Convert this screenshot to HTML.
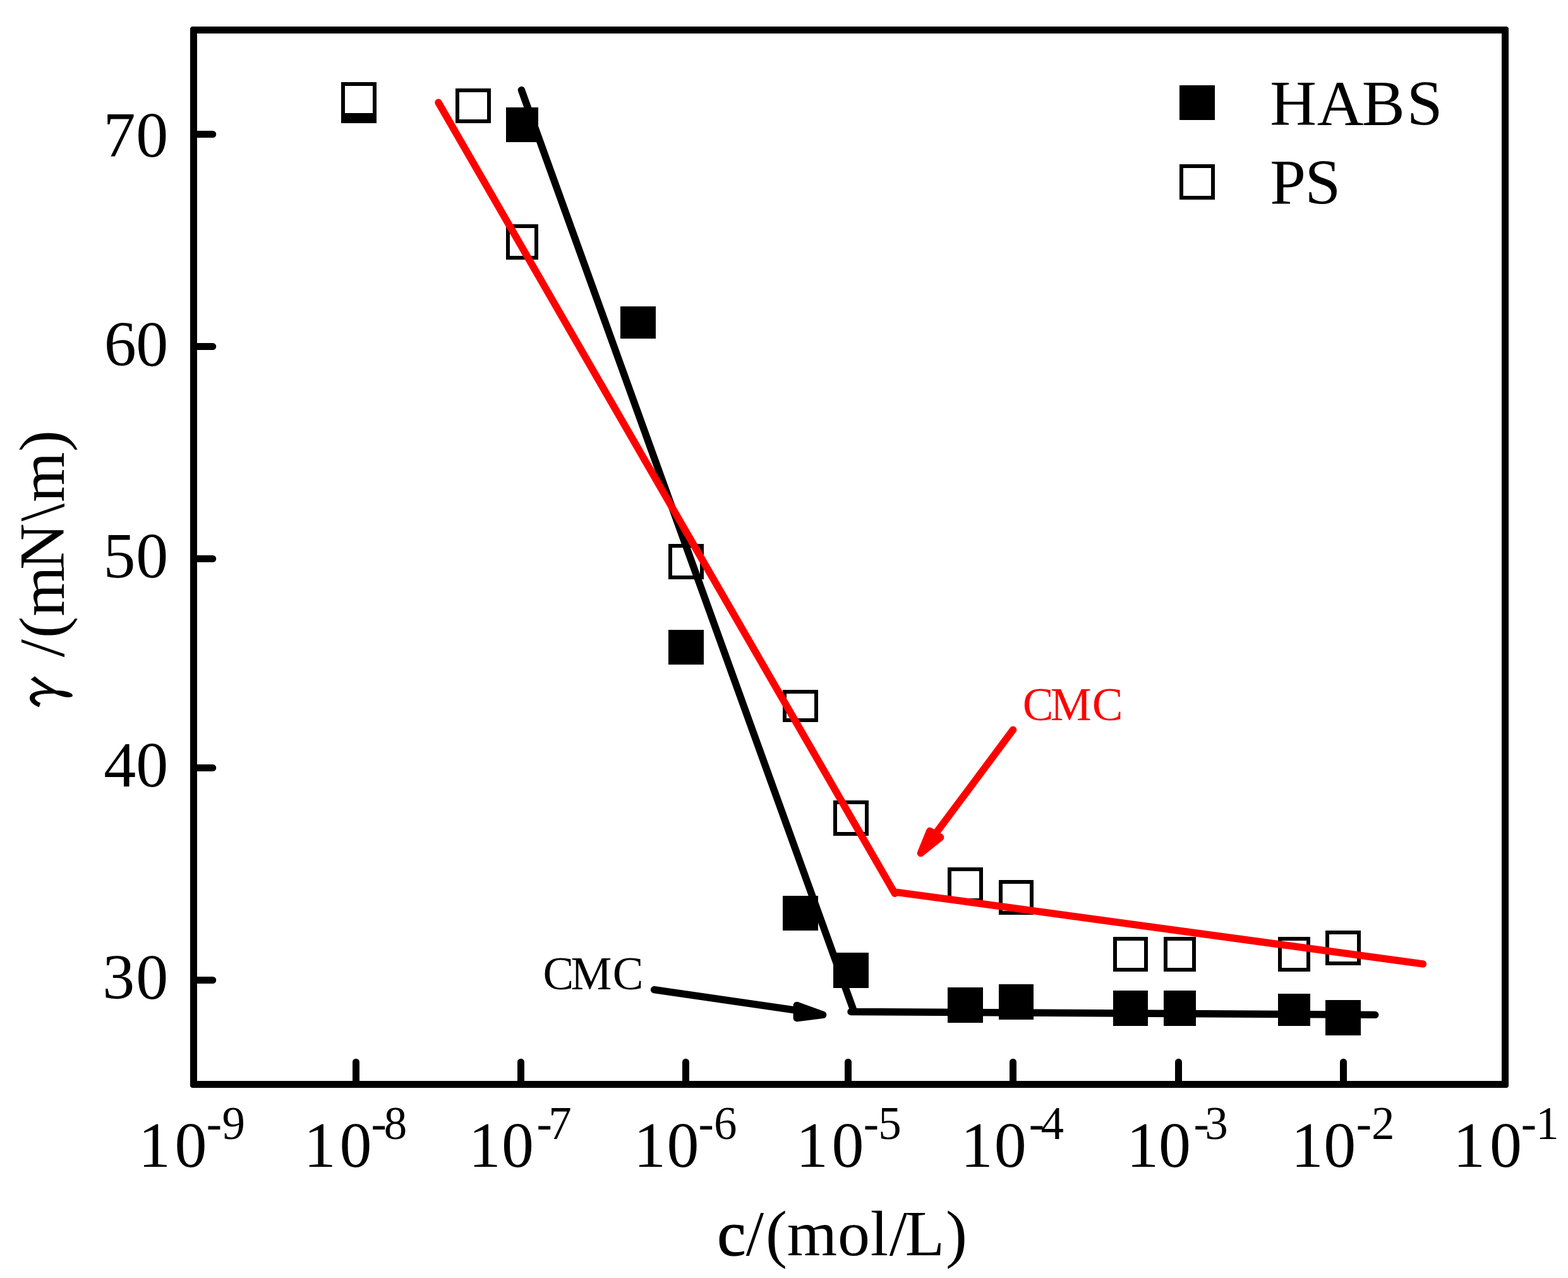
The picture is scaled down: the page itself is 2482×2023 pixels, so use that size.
<!DOCTYPE html>
<html lang="en"><head><meta charset="utf-8"><title>Surface tension versus concentration</title>
<style>html,body{margin:0;padding:0;background:#fff;}body{width:2482px;height:2023px;overflow:hidden;}svg{display:block;}text{font-family:"Liberation Serif","Times New Roman",Times,serif;white-space:pre;}.g{font-family:"IPAGothic","Liberation Serif",serif;}</style></head><body>
<svg width="2482" height="2023" viewBox="0 0 2482 2023">
<rect x="0" y="0" width="2482" height="2023" fill="#fff"/>
<path fill="#000" fill-rule="evenodd" d="M303.5 42L2385.5 42L2388 44.5L2388 1719.5L2385.5 1722L303.5 1722L301 1719.5L301 44.5ZM312 53L312 1711L2377 1711L2377 53Z"/>
<g stroke="#000" stroke-width="11" stroke-linecap="round">
<line x1="306.5" y1="212.5" x2="336.7" y2="212.5"/>
<line x1="306.5" y1="548.5" x2="336.7" y2="548.5"/>
<line x1="306.5" y1="884.5" x2="336.7" y2="884.5"/>
<line x1="306.5" y1="1215.5" x2="336.7" y2="1215.5"/>
<line x1="306.5" y1="1551.5" x2="336.7" y2="1551.5"/>
<line x1="563.5" y1="1716.5" x2="563.5" y2="1681.2"/>
<line x1="824.5" y1="1716.5" x2="824.5" y2="1681.2"/>
<line x1="1085.5" y1="1716.5" x2="1085.5" y2="1681.2"/>
<line x1="1342.5" y1="1716.5" x2="1342.5" y2="1681.2"/>
<line x1="1603.5" y1="1716.5" x2="1603.5" y2="1681.2"/>
<line x1="1865.5" y1="1716.5" x2="1865.5" y2="1681.2"/>
<line x1="2126.5" y1="1716.5" x2="2126.5" y2="1681.2"/>
</g>
<g fill="#000">
<rect x="540" y="140" width="56" height="55"/>
<rect x="801" y="170" width="51" height="55"/>
<rect x="982" y="485" width="56" height="51"/>
<rect x="1058" y="997" width="56" height="55"/>
<rect x="1239" y="1418" width="56" height="55"/>
<rect x="1319" y="1508" width="56" height="56"/>
<rect x="1500" y="1563" width="56" height="56"/>
<rect x="1581" y="1558" width="55" height="56"/>
<rect x="1762" y="1568" width="55" height="56"/>
<rect x="1842" y="1568" width="51" height="56"/>
<rect x="2023" y="1573" width="51" height="51"/>
<rect x="2098" y="1583" width="56" height="56"/>
</g>
<g fill="#fff" stroke="#000" stroke-width="6">
<rect x="543" y="133" width="50" height="49"/>
<rect x="724" y="143" width="50" height="49"/>
<rect x="804" y="358" width="45" height="50"/>
<rect x="1061" y="864" width="50" height="50"/>
<rect x="1242" y="1095" width="50" height="45"/>
<rect x="1322" y="1270" width="50" height="50"/>
<rect x="1503" y="1376" width="50" height="49"/>
<rect x="1584" y="1396" width="49" height="49"/>
<rect x="1765" y="1486" width="49" height="49"/>
<rect x="1845" y="1486" width="45" height="49"/>
<rect x="2026" y="1486" width="45" height="49"/>
<rect x="2101" y="1476" width="50" height="49"/>
</g>
<g fill="none" stroke-width="11.4" stroke-linecap="round" stroke-linejoin="round">
<path d="M825.4 142.5L1351 1599M1347 1601.5L2176.7 1606.4" stroke="#000"/>
<path d="M694 162.3L1416.5 1414.3M1415.5 1411.8L2252.4 1525.9" stroke="#f00"/>
<path d="M1603.6 1155.2L1480.3 1320.5" stroke="#f00"/>
<path d="M1457.4 1350.6L1488.7 1325.5L1471.8 1315.4Z" stroke="#f00" fill="#f00"/>
<path d="M1035.5 1566.7L1261.3 1599.3" stroke="#000"/>
<path d="M1302.6 1606.4L1261.3 1591.4L1261.3 1611.5Z" stroke="#000" fill="#000"/>
</g>
<g font-size="102" fill="#000">
<text x="163.46 215.3" y="247.7">70</text>
<text x="164.68 215.3" y="578.9">60</text>
<text x="163.43 215.3" y="913.9">50</text>
<text x="164.2 215.3" y="1244.85">40</text>
<text x="162.35 215.3" y="1580.7">30</text>
<text y="1846.8"><tspan x="218.88 276.4">10</tspan><tspan font-size="73" x="326.81 351.62" y="1803.4">-9</tspan></text>
<text y="1846.8"><tspan x="480.68 537.6">10</tspan><tspan font-size="73" x="587.51 607.7" y="1803.4">-8</tspan></text>
<text y="1846.8"><tspan x="741.68 793.9">10</tspan><tspan font-size="73" x="849.41 868.2" y="1803.4">-7</tspan></text>
<text y="1846.8"><tspan x="1002.98 1055.55">10</tspan><tspan font-size="73" x="1105.51 1129.97" y="1803.4">-6</tspan></text>
<text y="1846.8"><tspan x="1259.88 1316.4">10</tspan><tspan font-size="73" x="1366.71 1390.35" y="1803.4">-5</tspan></text>
<text y="1846.8"><tspan x="1520.68 1573.65">10</tspan><tspan font-size="73" x="1628.66 1647.61" y="1803.4">-4</tspan></text>
<text y="1846.8"><tspan x="1783.18 1833.9">10</tspan><tspan font-size="73" x="1889.41 1907.33" y="1803.4">-3</tspan></text>
<text y="1846.8"><tspan x="2043.68 2095.3">10</tspan><tspan font-size="73" x="2146.66 2171.06" y="1803.4">-2</tspan></text>
<text y="1846.8"><tspan x="2299.88 2357.9">10</tspan><tspan font-size="73" x="2407.81 2431.18" y="1803.4">-1</tspan></text>
<text x="1135.19 1180.83 1212.12 1245.76 1326 1377.63 1407.83 1432.64 1497.01" y="1986.8"><tspan stroke="#000" stroke-width="1.2">c</tspan>/(mol/L)</text>
<text class="g" transform="translate(101 1119.4) rotate(-90) scale(0.78 1)" font-size="105.6" x="-21.24" y="4.14">γ</text>
<text transform="translate(101 1119.4) rotate(-90)" x="55 79.28 109.37 143.66 217.32 294.23 324.31 404.46" y="0"> /(mN\m)</text>
<text x="2010.19 2084.74 2155.8 2226.79" y="197.7">HABS</text>
<text x="2010.21 2065.59" y="323">PS</text>
</g>
<text x="1618.72 1662.66 1728.72" y="1140.2" font-size="73" fill="#f00">CMC</text>
<text x="859.42 903.61 969.72" y="1566" font-size="73" fill="#000">CMC</text>
<rect x="1867" y="135" width="56" height="55" fill="#000"/>
<rect x="1870" y="263" width="50" height="50" fill="#fff" stroke="#000" stroke-width="6"/>
</svg></body></html>
